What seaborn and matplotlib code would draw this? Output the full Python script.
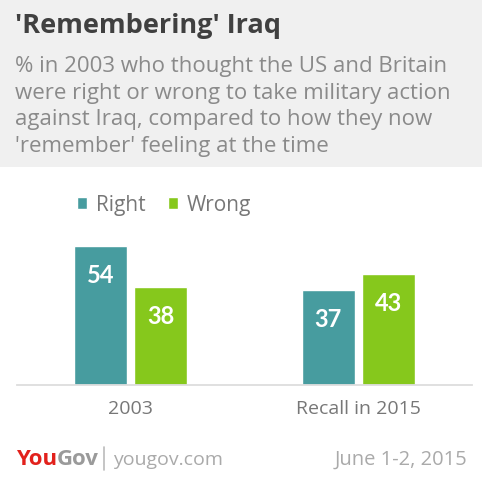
import matplotlib
matplotlib.use("Agg")
import matplotlib.pyplot as plt
from matplotlib.patches import Rectangle
from matplotlib.lines import Line2D
import pandas as pd
import seaborn as sns

# chart data
categories = ["2003", "Recall in 2015"]
answers = ["Right", "Wrong"]
right_values = [54, 37]
wrong_values = [38, 43]
colors = ["#479c9f", "#86c81c"]

title = "'Remembering' Iraq"
subtitle_lines = [
    "% in 2003 who thought the US and Britain",
    "were right or wrong to take military action",
    "against Iraq, compared to how they now",
    "'remember' feeling at the time",
]
date_text = "June 1-2, 2015"

df = pd.DataFrame({
    "category": categories * 2,
    "answer": [answers[0]] * len(categories) + [answers[1]] * len(categories),
    "value": right_values + wrong_values,
})

sns.set_theme(style="white")
plt.rcParams["font.family"] = ["Open Sans", "DejaVu Sans"]

W, H = 482, 490
fig = plt.figure(figsize=(W / 100, H / 100), dpi=100)
fig.patch.set_facecolor("white")

def fy(px):
    # pixel from top -> figure fraction
    return 1 - px / H

def fx(px):
    return px / W

# grey header box
fig.patches.append(Rectangle((0, fy(167)), 1, 167 / H, transform=fig.transFigure,
                             facecolor="#f0f0f0", edgecolor="none", zorder=0))

fig.text(fx(15), fy(33), title, fontsize=19.5, fontweight="bold", color="#404040", va="baseline")
for i, line in enumerate(subtitle_lines):
    fig.text(fx(15), fy(72 + i * 26.5), line, fontsize=16, color="#8a8a8a", va="baseline")

# bar axes: baseline at y=385px, x from 17 to 472px
ax = fig.add_axes([fx(17), fy(385), (472 - 17) / W, 60 * 2.57 / H])
sns.barplot(data=df, x="category", y="value", hue="answer", palette=colors,
            width=0.53, gap=0.12, ax=ax, saturation=1, legend=True)
ax.set_xlim(-0.5, 1.5)
ax.set_ylim(0, 60)
ax.set_xlabel("")
ax.set_ylabel("")
ax.set_yticks([])
for s in ["left", "right", "top"]:
    ax.spines[s].set_visible(False)
ax.spines["bottom"].set_color("#dddddd")
ax.spines["bottom"].set_linewidth(1.3)
ax.tick_params(axis="x", length=0, pad=11, labelsize=14, labelcolor="#777777")
ax.patch.set_alpha(0)

# value labels inside bars
for cont in ax.containers:
    for bar in cont:
        h = bar.get_height()
        ax.annotate(f"{h:.0f}", (bar.get_x() + bar.get_width() / 2, h),
                    xytext=(0, -21), textcoords="offset points",
                    ha="center", va="center", color="white",
                    fontsize=17, fontweight="bold", family=["Lato", "DejaVu Sans"])

handles, labels = ax.get_legend_handles_labels()
ax.legend(handles, labels, ncol=2, frameon=False, fontsize=15,
          loc="center left", bbox_to_anchor=(fx(58), fy(205)),
          bbox_transform=fig.transFigure, handlelength=0.5, handleheight=0.5,
          handletextpad=0.4, columnspacing=1.1, labelcolor="#777777")

# footer
you = fig.text(fx(16), fy(465), "You", fontsize=16, fontweight="bold", color="#e2211c", va="baseline")
fig.canvas.draw()
ax.annotate("Gov", xy=(1, 0), xycoords=you, fontsize=16, fontweight="bold",
            color="#9a9a9a", va="bottom", ha="left", annotation_clip=False)
fig.add_artist(Line2D([fx(104), fx(104)], [fy(470), fy(447)], transform=fig.transFigure,
                      color="#bbbbbb", lw=1.2))
fig.text(fx(113), fy(465), "yougov.com", fontsize=14, color="#aaaaaa", va="baseline")
fig.text(fx(467), fy(465), date_text, fontsize=14.5, color="#aaaaaa", va="baseline", ha="right")

fig.savefig("out.png", dpi=100)
